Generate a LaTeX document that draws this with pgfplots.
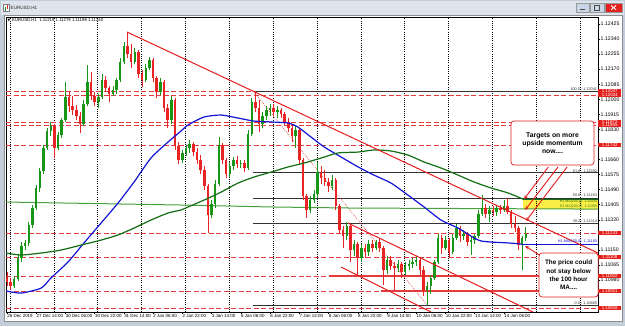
\documentclass[border=0pt]{standalone}
\usepackage{pgfplots}
\pgfplotsset{compat=1.18}
\usepackage{pgfplotstable}
\usepackage{fontspec}
\setmainfont{Liberation Sans}
\newfontfamily\dejavu{DejaVu Sans}
\usetikzlibrary{arrows.meta}

\definecolor{upc}{RGB}{24,150,24}
\definecolor{dnc}{RGB}{232,36,36}
\definecolor{ma100}{RGB}{20,20,215}
\definecolor{ma200}{RGB}{20,110,20}
\definecolor{d1ma}{RGB}{70,160,60}
\definecolor{lvl}{RGB}{228,60,60}
\definecolor{trend}{RGB}{228,30,30}
\definecolor{labred}{RGB}{228,32,28}
\definecolor{hl}{RGB}{250,238,70}
\definecolor{winframe}{RGB}{196,206,218}
\definecolor{tbar}{RGB}{222,228,236}
\definecolor{btnc}{RGB}{200,214,232}

% EURUSD H1 candles, prices in pips above 1.10000 (b = bar index)
% rising candles
\pgfplotstableread{
b o h l c
4 94.6 100.2 93.4 98.5
6 98.5 112.1 97.4 110.4
8 110.4 119.4 108.1 117.2
10 117.2 120.5 114.9 118.9
12 118.9 130.7 117.2 129.0
14 129.0 140.3 127.3 138.6
16 138.6 151.6 137.5 149.9
18 149.9 161.2 147.6 159.5
20 159.5 174.2 157.8 172.5
22 172.5 183.8 171.4 182.1
24 182.1 187.2 179.3 184.9
28 172.5 181.5 171.4 179.8
30 179.8 189.4 178.1 188.3
32 188.3 209.7 187.2 201.3
42 186.1 199.6 184.9 197.3
44 197.3 219.3 196.2 209.7
50 198.5 203.0 195.1 201.3
52 201.3 214.3 200.1 210.9
58 203.0 207.5 201.8 205.2
60 205.2 212.0 203.0 210.9
62 210.9 223.3 209.7 221.0
64 221.0 232.3 219.9 230.1
70 221.0 228.9 219.9 226.7
76 210.9 219.9 209.7 217.7
78 217.7 223.9 216.5 222.2
84 204.1 212.0 202.4 209.7
90 188.3 201.8 186.1 199.6
96 165.7 171.4 164.0 169.7
98 169.7 174.2 168.0 172.5
100 172.5 177.0 169.7 174.8
112 134.7 143.1 133.0 140.9
114 140.9 154.4 138.6 152.1
116 152.1 178.7 151.0 174.2
122 157.8 164.6 156.1 162.3
124 162.3 167.4 160.1 165.7
128 163.5 165.7 161.2 164.0
132 161.2 182.6 160.1 180.4
134 180.4 200.7 179.3 198.5
140 186.1 192.8 183.8 190.5
142 190.5 196.2 188.3 193.9
144 193.9 197.3 190.5 195.1
148 192.8 196.2 189.4 193.9
158 179.3 184.9 172.5 182.6
166 137.5 145.4 135.8 143.1
168 143.1 148.8 141.4 146.5
170 146.5 164.6 144.2 158.9
178 151.0 157.2 148.8 154.4
186 122.8 130.7 120.5 128.4
190 114.9 120.5 111.5 118.3
194 110.4 118.3 108.1 116.0
198 113.8 120.5 111.5 118.3
202 116.0 120.5 114.9 119.4
208 103.6 111.5 101.3 109.2
214 104.7 109.2 102.5 107.0
218 102.5 108.1 100.8 105.8
220 105.8 109.2 103.6 107.0
222 107.0 110.4 104.7 108.1
224 108.1 111.5 105.8 109.2
230 92.3 96.8 83.8 94.6
232 94.6 100.8 90.1 99.1
234 99.1 109.2 97.9 108.1
236 108.1 123.9 107.0 121.7
240 116.0 122.8 114.9 120.5
244 113.8 123.9 112.6 121.7
246 121.7 129.6 120.5 127.3
250 122.8 126.2 120.5 123.9
254 119.4 122.8 112.1 120.5
256 120.5 123.9 118.3 122.8
258 122.8 137.5 121.7 135.2
260 135.2 145.9 134.1 138.6
264 135.2 139.7 130.7 137.5
268 136.3 139.7 134.1 138.6
272 137.5 143.1 136.3 139.7
282 117.7 122.8 103.6 121.7
284 121.7 127.9 120.0 123.9
}\upc
% falling candles
\pgfplotstableread{
b o h l c
0 99.1 102.5 94.6 96.8
2 96.8 99.1 92.3 94.6
26 184.9 186.1 166.8 172.5
34 201.3 204.1 192.8 196.2
36 196.2 201.8 191.1 193.9
38 193.9 196.8 188.3 190.5
40 190.5 192.8 180.9 186.1
46 209.7 215.4 199.6 201.8
48 201.8 204.1 196.2 198.5
54 210.9 213.1 204.1 206.4
56 206.4 207.5 198.5 203.0
66 230.1 238.0 223.3 225.5
68 225.5 231.2 217.7 221.0
72 226.7 227.8 212.0 214.3
74 214.3 216.5 206.9 210.9
80 222.2 223.3 209.7 212.0
82 212.0 213.1 200.7 204.1
86 209.7 210.9 192.8 195.1
88 195.1 197.3 183.8 188.3
92 199.6 200.7 171.4 173.6
94 173.6 175.9 163.5 165.7
102 174.8 175.9 168.0 170.2
104 170.2 172.5 163.5 165.7
106 165.7 168.5 157.8 160.1
108 160.1 162.3 148.8 151.0
110 151.0 152.1 124.5 134.7
118 174.2 175.3 163.5 165.7
120 165.7 166.8 155.5 157.8
126 165.7 168.0 161.2 163.5
130 164.0 165.7 158.9 161.2
136 198.5 204.7 192.8 195.1
138 195.1 199.6 181.5 186.1
146 195.1 197.3 190.5 192.8
150 193.9 195.1 189.4 191.7
152 191.7 192.8 185.5 187.2
154 187.2 189.4 181.5 183.8
156 183.8 186.1 175.9 179.3
160 182.6 183.8 162.9 165.7
162 165.7 166.8 143.1 145.4
164 145.4 146.5 133.0 137.5
172 158.9 162.3 152.1 155.5
174 155.5 160.1 151.0 153.3
176 153.3 155.5 147.6 151.0
180 154.4 155.5 137.5 139.7
182 139.7 140.9 123.9 126.2
184 126.2 128.4 116.0 122.8
188 128.4 129.6 108.1 114.9
192 118.3 119.4 100.2 110.4
196 116.0 118.3 110.4 113.8
200 118.3 120.5 113.8 116.0
204 119.4 121.7 113.8 116.0
206 116.0 117.2 95.1 103.6
210 109.2 111.5 103.6 105.8
212 105.8 108.1 92.3 104.7
216 107.0 108.1 99.1 102.5
226 109.2 110.4 100.2 103.6
228 103.6 105.8 88.9 92.3
238 121.7 123.4 112.6 116.0
242 120.5 121.7 110.4 113.8
248 127.3 128.4 119.4 122.8
252 123.9 125.0 117.2 119.4
262 138.6 140.9 133.0 135.2
266 137.5 139.7 134.1 136.3
270 138.6 140.3 135.2 137.5
274 139.7 144.2 135.2 136.3
276 136.3 137.5 127.3 129.6
278 129.6 134.1 125.0 127.3
280 127.3 128.4 114.9 117.7
}\dnc

\begin{document}
\begin{tikzpicture}
% window chrome (pixel coordinates)
\begin{scope}[x=1bp,y=-1bp]
  \fill[winframe] (0,0) rectangle (625,326);
  \fill[tbar] (1,1) rectangle (624,15);
  \fill[white] (4,15) rectangle (622,321);
  \draw[black!45, line width=0.4bp] (4,15) rectangle (622,321);
  \fill[white] (3.5,4) rectangle (9.5,11.5);
  \draw[black!50, line width=0.3bp] (3.5,4) rectangle (9.5,11.5);
  \fill[upc] (4.8,7) rectangle (6.2,10.5);
  \fill[dnc] (7,5.2) rectangle (8.4,9);
  \node[anchor=west, inner sep=0, font=\fontsize{4.6}{5}\selectfont, text=black!85] at (10.5,8.3) {EURUSD,H1};
  \fill[btnc] (576,3) rectangle (589,12);
  \draw[black!40, line width=0.3bp] (576,3) rectangle (589,12);
  \draw[black!70, line width=0.8bp] (580,9.5) -- (585,9.5);
  \fill[btnc] (590,3) rectangle (604,12);
  \draw[black!40, line width=0.3bp] (590,3) rectangle (604,12);
  \draw[black!70, line width=0.5bp] (594.5,5.5) rectangle (599.5,9.8);
  \fill[labred] (605,3) rectangle (622,12);
  \draw[black!40, line width=0.3bp] (605,3) rectangle (622,12);
  \draw[white, line width=0.9bp] (611,5.5) -- (616,9.8) (611,9.8) -- (616,5.5);
  \node[anchor=west, inner sep=0, font=\dejavu\fontsize{3.5}{4}\selectfont] at (7.5,20.3) {▼};
  \node[anchor=west, inner sep=0, font=\fontsize{4.3}{5}\selectfont] at (12,20.3) {EURUSD,H1\ \ 1.11218 1.11279 1.11198 1.11240};
\end{scope}

\begin{axis}[
  at={(6bp,-312bp)}, anchor=south west,
  width=592bp, height=295bp, scale only axis,
  xmin=-0.5, xmax=323.5, ymin=79.9, ymax=246.45,
  clip mode=individual,
  axis line style={black, line width=0.5bp},
  tick align=outside, major tick length=2bp,
  tick style={black, line width=0.4bp},
  xtick pos=bottom, ytick pos=right, yticklabel pos=right,
  xtick={0,16,32,48,64,80,96,112,128,144,160,176,192,208,224,240,256,272},
  xticklabels={26 Dec 2019,27 Dec 14:00,30 Dec 06:00,30 Dec 22:00,31 Dec 14:00,2 Jan 06:00,2 Jan 22:00,3 Jan 14:00,6 Jan 06:00,6 Jan 22:00,7 Jan 14:00,8 Jan 06:00,8 Jan 22:00,9 Jan 14:00,10 Jan 06:00,10 Jan 22:00,13 Jan 14:00,14 Jan 06:00},
  ytick={242.5,234,225.5,217,208.5,200,191.5,183,166,157.5,149,140.5,132,115,106.5,98},
  yticklabels={1.12425,1.12340,1.12255,1.12170,1.12085,1.12000,1.11915,1.11830,1.11660,1.11575,1.11490,1.11405,1.11320,1.11150,1.11065,1.10980},
  x tick label style={font=\fontsize{4.5}{5}\selectfont, anchor=north west, inner sep=0.5bp, xshift=-0.3bp},
  y tick label style={font=\fontsize{5.2}{5.2}\selectfont, anchor=west, inner sep=0.5bp},
]
% yellow zone between H1 200 MA and D1 200 MA
\addplot[fill=hl, draw=none, forget plot] coordinates {(282.5,138.0) (323.5,138.0) (323.5,143.4) (282.5,143.4)} -- cycle;

% vertical dotted grid
\pgfplotsinvokeforeach{1.7,25.7,49.7,73.7,97.7,121.7,145.7,169.7,193.7,217.7,241.7,265.7,289.7,313.7}{
  \addplot[black, line width=0.55bp, dash pattern=on 1bp off 1.2bp, forget plot] coordinates {(#1,79.9) (#1,246.45)};
}

% horizontal dashed price levels
\pgfplotsinvokeforeach{204.7,202.4,187.2,185.5,174.2,124.5,110.9,100.2,91.7,82.2}{
  \addplot[lvl, line width=0.6bp, dash pattern=on 5bp off 2.5bp, forget plot] coordinates {(-0.5,#1) (323.5,#1)};
}
% thick support lines
\addplot[lvl, line width=2.4bp, forget plot] coordinates {(176.3,100.2) (323.5,100.2)};
\addplot[lvl, line width=2.4bp, forget plot] coordinates {(204.8,91.7) (323.5,91.7)};

% Fibonacci retracement levels
\pgfplotsinvokeforeach{204.7,158.5,144.25,130.0,83.8}{
  \addplot[black!80, line width=0.6bp, forget plot] coordinates {(134.7,#1) (323.5,#1)};
}
\addplot[trend, line width=0.5bp, dash pattern=on 0.8bp off 1.2bp, forget plot] coordinates {(134.7,204.7) (230,83.8)};

% D1 MA(200)
\addplot[d1ma, line width=1bp, forget plot] coordinates {(-0.5,142.0) (95.3,140.3) (144.6,139.2) (188.3,138.6) (323.5,138.0)};

% candles: wicks and bodies
\addplot[draw=none, forget plot, error bars/.cd, y dir=plus, y explicit, error mark=none, error bar style={draw=upc, line width=0.7bp}] table[x=b, y=l, y error expr=\thisrow{h}-\thisrow{l}] {\upc};
\addplot[draw=none, forget plot, error bars/.cd, y dir=plus, y explicit, error mark=none, error bar style={draw=upc, line width=2.5bp}] table[x=b, y=o, y error expr=\thisrow{c}-\thisrow{o}] {\upc};
\addplot[draw=none, forget plot, error bars/.cd, y dir=plus, y explicit, error mark=none, error bar style={draw=dnc, line width=0.7bp}] table[x=b, y=l, y error expr=\thisrow{h}-\thisrow{l}] {\dnc};
\addplot[draw=none, forget plot, error bars/.cd, y dir=plus, y explicit, error mark=none, error bar style={draw=dnc, line width=2.5bp}] table[x=b, y=c, y error expr=\thisrow{o}-\thisrow{c}] {\dnc};

% H1 MA(100)
\addplot[ma100, line width=1.2bp, smooth, tension=0.4, forget plot] coordinates {
(-0.5,91.8) (7.7,90.6) (18.7,93.4) (24.1,99.1) (33.4,108.1) (42.2,118.9) (51.5,130.1) (60.8,141.4) (69.6,153.3) (78.8,166.8) (88.2,175.9) (95.3,182.1) (99.1,185.5) (107.9,190.0) (117.2,191.1) (126.5,189.4) (135.2,187.7) (144.6,187.2) (153.9,186.6) (159.3,184.3) (166.4,178.7) (173.6,173.1) (182.9,167.4) (192.2,161.8) (200.9,157.2) (210.2,152.7) (219.5,145.9) (228.3,139.2) (237.6,131.8) (246.9,127.3) (255.7,121.7) (259.5,120.0) (265.0,119.4) (274.3,118.9) (281.4,118.3)};
\addplot[ma100, line width=0.8bp, forget plot] coordinates {(281.4,118.3) (323.5,118.3)};

% H1 MA(200)
\addplot[ma200, line width=1.2bp, smooth, tension=0.4, forget plot] coordinates {
(-0.5,113.2) (7.7,112.1) (18.7,113.2) (29.6,114.9) (40.6,117.7) (51.5,120.5) (60.8,123.4) (69.6,127.3) (78.8,131.8) (88.2,135.8) (95.3,137.5) (99.1,139.2) (107.9,143.1) (117.2,147.6) (126.5,152.7) (135.2,156.1) (144.6,158.9) (153.9,161.8) (162.6,164.0) (171.9,166.8) (181.2,169.7) (192.2,170.2) (200.9,171.4) (210.2,170.8) (219.5,168.5) (228.3,164.6) (237.6,161.2) (246.9,157.2) (255.7,153.3) (265.0,149.9) (274.3,147.1) (283.0,143.4)};
\addplot[ma200, line width=0.8bp, forget plot] coordinates {(283.0,143.4) (323.5,143.4)};

% trend lines
\addplot[trend, line width=1bp, forget plot] coordinates {(65.7,238.0) (323.5,113.2)};
\addplot[trend, line width=1bp, forget plot] coordinates {(186.7,130.1) (287.9,79.9)};
\addplot[trend, line width=1bp, forget plot] coordinates {(182.9,105.3) (232.1,79.9)};

% arrows
\addplot[trend, line width=0.9bp, -{Stealth[length=4bp,width=3.5bp]}, forget plot] coordinates {(296.3,161.8) (283.0,143.6)};
\addplot[trend, line width=0.9bp, -{Stealth[length=4bp,width=3.5bp]}, forget plot] coordinates {(301.6,161.8) (283.6,137.5)};
\addplot[trend, line width=0.9bp, -{Stealth[length=4bp,width=3.5bp]}, forget plot] coordinates {(306.6,161.8) (284.1,131.3)};
\addplot[trend, line width=0.9bp, -{Stealth[length=4bp,width=3.5bp]}, forget plot] coordinates {(292.3,111.5) (283.6,117.2)};

% level / indicator texts
\node[anchor=south east, inner sep=0.4bp, font=\fontsize{3.8}{4}\selectfont, text=black!80] at (axis cs:323.3,204.7) {100.0 - 1.12041};
\node[anchor=south east, inner sep=0.4bp, font=\fontsize{3.8}{4}\selectfont, text=black!80] at (axis cs:323.3,158.5) {61.8 - 1.11592};
\node[anchor=south east, inner sep=0.4bp, font=\fontsize{3.8}{4}\selectfont, text=black!80] at (axis cs:323.3,144.6) {50.0 - 1.11453};
\node[anchor=south east, inner sep=0.4bp, font=\fontsize{3.8}{4}\selectfont, text=black!80] at (axis cs:323.3,130.0) {38.2 - 1.11314};
\node[anchor=south east, inner sep=0.4bp, font=\fontsize{3.8}{4}\selectfont, text=black!80] at (axis cs:323.3,83.8) {0.0 - 1.10865};
\node[anchor=north east, inner sep=0.3bp, font=\fontsize{3.6}{4}\selectfont, text=ma200] at (axis cs:323.3,143.4) {H1 MA(200,0): 1.11434};
\node[anchor=south east, inner sep=0.3bp, font=\fontsize{3.6}{4}\selectfont, text=d1ma!80!black] at (axis cs:323.3,138.1) {D1 MA(200,0): 1.11380};
\node[anchor=south east, inner sep=0.4bp, font=\fontsize{3.8}{4}\selectfont, text=ma100] at (axis cs:323.3,118.3) {H1 MA(100,0): 1.11183};

% red price labels on the scale
\foreach \p/\t in {204.7/1.12047,202.4/1.12024,187.2/1.11872,185.5/1.11855,174.2/1.11742,124.5/1.11243,110.9/1.11108,100.2/1.11002,91.7/1.10921,82.2/1.10818}{
  \edef\tmp{\noexpand\node[anchor=west, fill=labred, text=white, inner sep=0.3bp, minimum width=23bp, minimum height=4.6bp, font=\noexpand\fontsize{4.4}{4.4}\noexpand\selectfont] at (axis cs:323.5,\p) {\t};}
  \tmp
}

% annotation boxes
\node[draw=trend, line width=0.7bp, fill=white, rounded corners=3bp, minimum width=83bp, minimum height=44bp, align=center, font=\bfseries\fontsize{6.8}{8.3}\selectfont] at (axis cs:298.6,175.3) {Targets on more\\upside momentum\\now....};
\node[draw=trend, line width=0.7bp, fill=white, rounded corners=3bp, minimum width=59bp, minimum height=44bp, align=center, font=\bfseries\fontsize{6.4}{8.4}\selectfont] at (axis cs:307.4,100.8) {The price could\\not stay below\\the 100 hour\\MA....};
\end{axis}
\end{tikzpicture}
\end{document}
